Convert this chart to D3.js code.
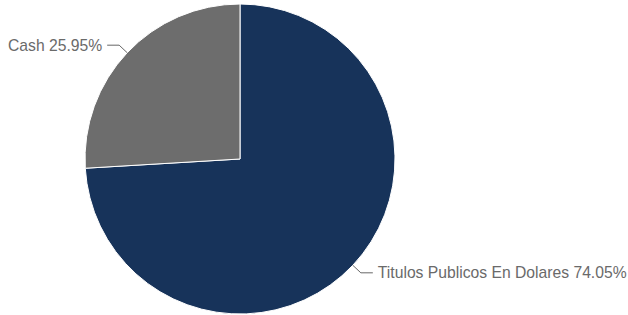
<!DOCTYPE html>
<html>
<head>
<meta charset="utf-8">
<script src="https://cdn.jsdelivr.net/npm/d3@7"></script>
<style>
  body { margin: 0; background: #fff; }
  svg { display: block; }
</style>
</head>
<body>
<div id="chart"></div>
<script>
var categories = ['Titulos Publicos En Dolares', 'Cash'];
var values = [74.05, 25.95];
var colors = ['#17335a', '#6d6d6d'];

var width = 628,
    height = 315,
    cx = 240,
    cy = 159,
    radius = 155;

var data = categories.map(function (c, i) {
    return { name: c, value: values[i], color: colors[i] };
});

var svg = d3.select('#chart').append('svg')
    .attr('width', width)
    .attr('height', height);

var g = svg.append('g')
    .attr('transform', 'translate(' + cx + ',' + cy + ')');

var pie = d3.pie()
    .sort(null)
    .value(function (d) { return d.value; });

var arc = d3.arc()
    .innerRadius(0)
    .outerRadius(radius);

var arcs = pie(data);

g.selectAll('.slice')
    .data(arcs)
    .enter().append('path')
    .attr('class', 'slice')
    .attr('d', arc)
    .style('fill', function (d) { return d.data.color; })
    .style('stroke', '#fff')
    .style('stroke-width', 1);

// labels with elbow connectors
var labels = g.selectAll('.label')
    .data(arcs)
    .enter().append('g')
    .attr('class', 'label');

function pointAt(a, r) {
    return [r * Math.sin(a), -r * Math.cos(a)];
}

labels.each(function (d) {
    var mid = (d.startAngle + d.endAngle) / 2,
        right = Math.sin(mid) > 0,
        p0 = pointAt(mid, radius),
        p1 = pointAt(mid, radius + 11),
        p2 = [p1[0] + (right ? 12 : -12), p1[1]];

    var sel = d3.select(this);
    sel.append('path')
        .attr('d', 'M' + p0 + 'L' + p1 + 'L' + p2)
        .style('fill', 'none')
        .style('stroke', '#666')
        .style('stroke-width', 1);

    sel.append('text')
        .attr('x', p2[0] + (right ? 5 : -5))
        .attr('y', p2[1])
        .attr('dy', '0.35em')
        .attr('text-anchor', right ? 'start' : 'end')
        .style('font-family', '"Liberation Sans", Arial, sans-serif')
        .style('font-size', '15.7px')
        .style('fill', '#6a6a6a')
        .text(d.data.name + ' ' + d.data.value.toFixed(2) + '%');
});
</script>
</body>
</html>
